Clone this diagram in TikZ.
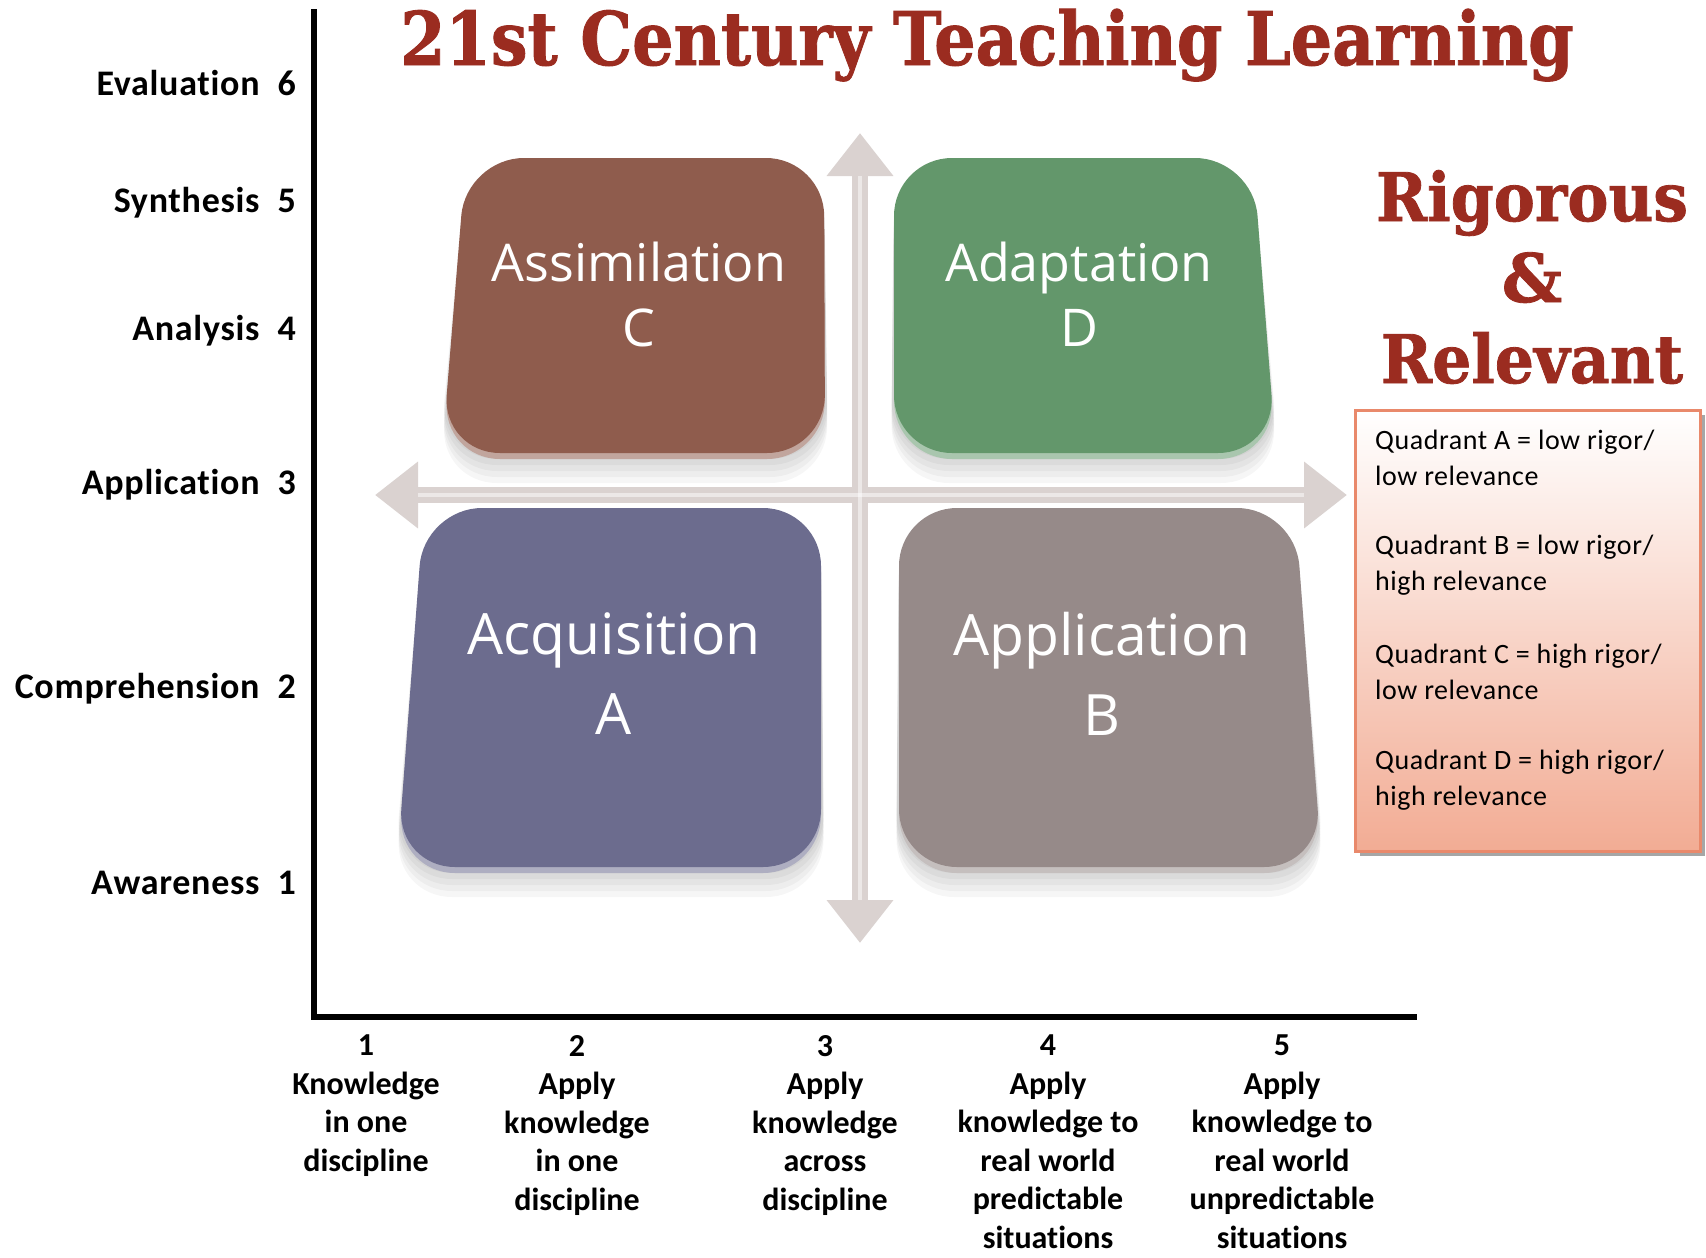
\documentclass[tikz,border=0pt]{standalone}
\usepackage{fontspec}
\setmainfont[Ligatures=CommonOff]{Carlito}
\newfontfamily\widefont[LetterSpace=2, Ligatures=CommonOff]{Carlito}
\newfontfamily\slabfont[BoldFeatures={FakeBold=1.2}]{DejaVu Serif}
\newfontfamily\tilefont{Open Sans}
\usetikzlibrary{arrows.meta}

\definecolor{titlered}{RGB}{155,44,32}
\definecolor{tileA}{RGB}{108,108,142}
\definecolor{tileB}{RGB}{150,138,137}
\definecolor{tileC}{RGB}{143,92,77}
\definecolor{tileD}{RGB}{99,151,107}
\definecolor{arrowgray}{RGB}{218,210,208}
\definecolor{legendedge}{RGB}{233,137,107}
\definecolor{legendpink}{RGB}{242,172,148}

% trapezoid tile: [colour](top left x, top right x, bottom left x, bottom right x)(top y, bottom y)
\def\tile[#1](#2,#3,#4,#5)(#6,#7){%
  \foreach \s in {6,12,...,30}
    \fill[black, opacity=0.035, rounded corners=58pt] (#2,#6+\s) -- (#3,#6+\s) -- (#5+3,#7+\s) -- (#4-3,#7+\s) -- cycle;
  \fill[#1!55!white, rounded corners=58pt] (#2,#6+6) -- (#3,#6+6) -- (#5,#7+6) -- (#4,#7+6) -- cycle;
  \fill[#1, rounded corners=58pt] (#2,#6) -- (#3,#6) -- (#5,#7) -- (#4,#7) -- cycle;
}

\tikzset{
  ylab/.style={anchor=east, inner sep=0pt, font=\widefont\fontsize{36}{40}\selectfont\bfseries},
  xlab/.style={anchor=north, inner sep=0pt, align=center, font=\fontsize{32}{38.5}\selectfont\bfseries},
  tilelabtop/.style={text=white, align=center, font=\tilefont\fontsize{52}{65}\selectfont},
  tilelabbot/.style={text=white, align=center, font=\tilefont\fontsize{57}{80}\selectfont},
  legtext/.style={anchor=west, inner sep=0pt, align=left, font=\widefont\fontsize{28}{36}\selectfont},
  bigred/.style={anchor=base, text=titlered, font=\slabfont\bfseries\fontsize{67}{80}\selectfont},
  crossarrow/.style={line width=16pt, color=arrowgray, {Triangle[length=43pt,width=64pt]}-{Triangle[length=43pt,width=64pt]}},
}

\begin{document}
\begin{tikzpicture}[x=1pt, y=-1pt]
		%%%%% START %%%%%
		\useasboundingbox[fill=white] (0,0) rectangle (1706,1258);
		
		% axes
		\coordinate (ytop) at (314, 9);
		\coordinate (xend) at (1417, 1017);
		\draw[line width=6pt] (ytop) |- (xend);
		
		% title
		\node[bigred, font=\slabfont\bfseries\fontsize{74}{80}\selectfont] (title) at (987, 65) {\scalebox{0.88}[1]{21st Century Teaching Learning}};
		
		% cross arrows
		\coordinate (vtop) at (860, 133);
		\coordinate (vbot) at (860, 943);
		\coordinate (hleft) at (375, 495);
		\coordinate (hright) at (1347, 495);
		\draw[crossarrow] (hleft) -- (hright);
		\draw[crossarrow] (vtop) -- (vbot);
		\draw[line width=4pt, color=white, opacity=0.5] (418, 495) -- (1304, 495);
		\draw[line width=4pt, color=white, opacity=0.5] (860, 176) -- (860, 900);
		
		% tiles
		\tile[tileC](466,824,442,825)(158,453)
		\tile[tileD](894,1253,894,1276)(158,453)
		\tile[tileA](424,821,397,821)(508,867)
		\tile[tileB](899,1295,899,1322)(508,867)
		
		\node[tilelabtop] (qc) at (639, 294) {Assimilation\\C};
		\node[tilelabtop] (qd) at (1079, 294) {Adaptation\\D};
		\node[tilelabbot] (qa) at (614, 674) {Acquisition\\A};
		\node[tilelabbot] (qb) at (1102, 674) {Application\\B};
		
		% levels
		\node[ylab] (lev6) at (296, 83) {Evaluation\hspace{18pt}6};
		\node[ylab] (lev5) at (296, 203) {Synthesis\hspace{18pt}5};
		\node[ylab] (lev4) at (296, 331) {Analysis\hspace{18pt}4};
		\node[ylab] (lev3) at (296, 485) {Application\hspace{18pt}3};
		\node[ylab] (lev2) at (296, 689) {Comprehension\hspace{18pt}2};
		\node[ylab] (lev1) at (296, 883) {Awareness\hspace{18pt}1};
		
		\node[xlab] (ap1) at (366, 1035) {1\\Knowledge\\in one\\discipline};
		\node[xlab] (ap2) at (577, 1035) {2\\Apply\\knowledge\\in one\\discipline};
		\node[xlab] (ap3) at (825, 1035) {3\\Apply\\knowledge\\across\\discipline};
		\node[xlab] (ap4) at (1048, 1035) {4\\Apply\\knowledge to\\real world\\predictable\\situations};
		\node[xlab] (ap5) at (1282, 1035) {5\\Apply\\knowledge to\\real world\\unpredictable\\situations};
		
		% rigorous & relevant
		\node[bigred] (rig) at (1532, 221) {\scalebox{0.92}[1]{Rigorous}};
		\node[bigred] (amp) at (1532, 302) {\&};
		\node[bigred] (rel) at (1532, 383) {\scalebox{0.92}[1]{Relevant}};
		
		\fill[black!35] (1360, 415) rectangle (1705, 856);
		\shade[top color=white, middle color=legendpink!45!white, bottom color=legendpink, draw=legendedge, line width=3pt] (1355, 410) rectangle (1700, 851);
		\node[legtext] (legA) at (1375, 458) {Quadrant A = low rigor/\\low relevance};
		\node[legtext] (legB) at (1375, 565) {Quadrant B = low rigor/\\high relevance};
		\node[legtext] (legC) at (1375, 672) {Quadrant C = high rigor/\\low relevance};
		\node[legtext] (legD) at (1375, 780) {Quadrant D = high rigor/\\high relevance};
		
		%%%%% END %%%%%
	\end{tikzpicture}
\end{document}
